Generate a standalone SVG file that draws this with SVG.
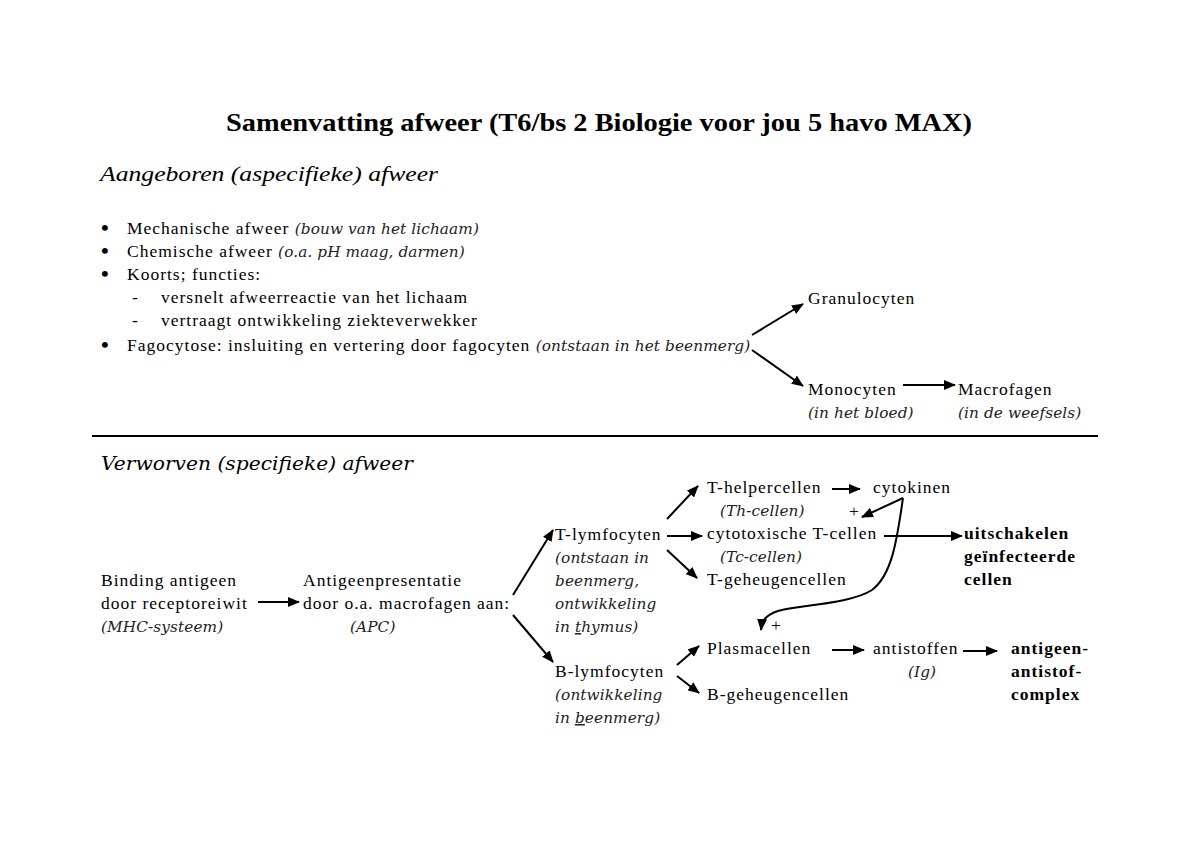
<svg xmlns="http://www.w3.org/2000/svg" width="1200" height="849" viewBox="0 0 1200 849">
<style>
text{font-family:"Liberation Serif","Times New Roman",serif;font-size:17.5px;letter-spacing:1px;fill:#000}
.b{font-weight:bold}
.i{font-family:"DejaVu Serif",serif;font-style:italic;font-size:15.3px;letter-spacing:0.1px;fill:#222}
.h1{font-weight:bold;font-size:26px;letter-spacing:0}
.h2{font-style:italic;font-size:22px;letter-spacing:0}
.h3{font-family:"DejaVu Serif",serif;font-style:italic;font-size:19px;letter-spacing:0}
.u{text-decoration:underline}
.bul{font-size:22px;font-weight:bold;letter-spacing:0}
.ln{stroke:#000;stroke-width:2;fill:none}
</style>
<defs>
<marker id="ah" markerUnits="userSpaceOnUse" markerWidth="12" markerHeight="10" refX="11" refY="5" orient="auto">
<path d="M0,0 L12,5 L0,10 Z" fill="#000"/>
</marker>
</defs>
<rect width="1200" height="849" fill="#fff"/>

<g id="title">
<text class="h1" x="226" y="131" textLength="746" lengthAdjust="spacingAndGlyphs">Samenvatting afweer (T6/bs 2 Biologie voor jou 5 havo MAX)</text>
</g>

<g id="aangeboren">
<text class="h2" x="100" y="181" textLength="338" lengthAdjust="spacingAndGlyphs">Aangeboren (aspecifieke) afweer</text>
<text class="bul" x="101" y="235">•</text>
<text x="127" y="234">Mechanische afweer <tspan class="i">(bouw van het lichaam)</tspan></text>
<text class="bul" x="101" y="258">•</text>
<text x="127" y="257">Chemische afweer <tspan class="i">(o.a. pH maag, darmen)</tspan></text>
<text class="bul" x="101" y="281">•</text>
<text x="127" y="280">Koorts; functies:</text>
<text x="132" y="303">-</text>
<text x="161" y="303">versnelt afweerreactie van het lichaam</text>
<text x="132" y="326">-</text>
<text x="161" y="326">vertraagt ontwikkeling ziekteverwekker</text>
<text class="bul" x="101" y="352">•</text>
<text x="127" y="351">Fagocytose: insluiting en vertering door fagocyten <tspan class="i">(ontstaan in het beenmerg)</tspan></text>
</g>

<g id="granulocyten"><text x="808" y="304">Granulocyten</text></g>
<g id="monocyten"><text x="808" y="395">Monocyten</text><text class="i" x="808" y="418">(in het bloed)</text></g>
<g id="macrofagen"><text x="958" y="395">Macrofagen</text><text class="i" x="958" y="418">(in de weefsels)</text></g>

<line x1="92" y1="436" x2="1098" y2="436" stroke="#000" stroke-width="2"/>

<g id="verworven"><text class="h3" x="101" y="470" textLength="312" lengthAdjust="spacingAndGlyphs">Verworven (specifieke) afweer</text></g>

<g id="binding">
<text x="101" y="586">Binding antigeen</text>
<text x="101" y="609">door receptoreiwit</text>
<text class="i" x="101" y="632">(MHC-systeem)</text>
</g>
<g id="apc">
<text x="303" y="586">Antigeenpresentatie</text>
<text x="303" y="609">door o.a. macrofagen aan:</text>
<text class="i" x="350" y="632">(APC)</text>
</g>
<g id="tlymfo">
<text x="555" y="540">T-lymfocyten</text>
<text class="i" x="555" y="563">(ontstaan in</text>
<text class="i" x="555" y="586">beenmerg,</text>
<text class="i" x="555" y="609">ontwikkeling</text>
<text class="i" x="555" y="632">in <tspan class="u">t</tspan>hymus)</text>
</g>
<g id="blymfo">
<text x="555" y="677">B-lymfocyten</text>
<text class="i" x="555" y="700">(ontwikkeling</text>
<text class="i" x="555" y="723">in <tspan class="u">b</tspan>eenmerg)</text>
</g>
<g id="thelper">
<text x="707" y="493">T-helpercellen</text>
<text class="i" x="720" y="516">(Th-cellen)</text>
</g>
<g id="cytokinen"><text x="873" y="493">cytokinen</text></g>
<g id="tcyto">
<text x="707" y="539">cytotoxische T-cellen</text>
<text class="i" x="720" y="562">(Tc-cellen)</text>
</g>
<g id="tgeheugen"><text x="707" y="585">T-geheugencellen</text></g>
<g id="uitschakelen">
<text class="b" x="964" y="539">uitschakelen</text>
<text class="b" x="964" y="562">geïnfecteerde</text>
<text class="b" x="964" y="585">cellen</text>
</g>
<g id="plasma"><text x="707" y="654">Plasmacellen</text></g>
<g id="bgeheugen"><text x="707" y="700">B-geheugencellen</text></g>
<g id="antistoffen">
<text x="873" y="654">antistoffen</text>
<text class="i" x="908" y="677">(Ig)</text>
</g>
<g id="complex">
<text class="b" x="1011" y="654">antigeen-</text>
<text class="b" x="1011" y="677">antistof-</text>
<text class="b" x="1011" y="700">complex</text>
</g>

<g id="connectors">
<line class="ln" x1="752" y1="335" x2="803" y2="304" marker-end="url(#ah)"/>
<line class="ln" x1="752" y1="350" x2="803" y2="386" marker-end="url(#ah)"/>
<line class="ln" x1="903" y1="385" x2="955" y2="385" marker-end="url(#ah)"/>
<line class="ln" x1="258" y1="602" x2="299" y2="602" marker-end="url(#ah)"/>
<line class="ln" x1="513" y1="595" x2="553" y2="530" marker-end="url(#ah)"/>
<line class="ln" x1="513" y1="615" x2="553" y2="662" marker-end="url(#ah)"/>
<line class="ln" x1="667" y1="519" x2="698" y2="486" marker-end="url(#ah)"/>
<line class="ln" x1="667" y1="536" x2="702" y2="536" marker-end="url(#ah)"/>
<line class="ln" x1="667" y1="550" x2="697" y2="578" marker-end="url(#ah)"/>
<line class="ln" x1="832" y1="489" x2="860" y2="489" marker-end="url(#ah)"/>
<line class="ln" x1="903" y1="498" x2="862" y2="517" marker-end="url(#ah)"/>
<text x="849" y="517" style="letter-spacing:0">+</text>
<path class="ln" d="M903,498 C897,540 892,575 872,590 C850,604 800,605 778,611 C766,615 762,620 761,630" marker-end="url(#ah)"/>
<text x="771" y="631" style="letter-spacing:0">+</text>
<line class="ln" x1="884" y1="536" x2="962" y2="536" marker-end="url(#ah)"/>
<line class="ln" x1="677" y1="665" x2="699" y2="646" marker-end="url(#ah)"/>
<line class="ln" x1="677" y1="676" x2="699" y2="693" marker-end="url(#ah)"/>
<line class="ln" x1="832" y1="650" x2="864" y2="650" marker-end="url(#ah)"/>
<line class="ln" x1="963" y1="651" x2="997" y2="651" marker-end="url(#ah)"/>
</g>
</svg>
